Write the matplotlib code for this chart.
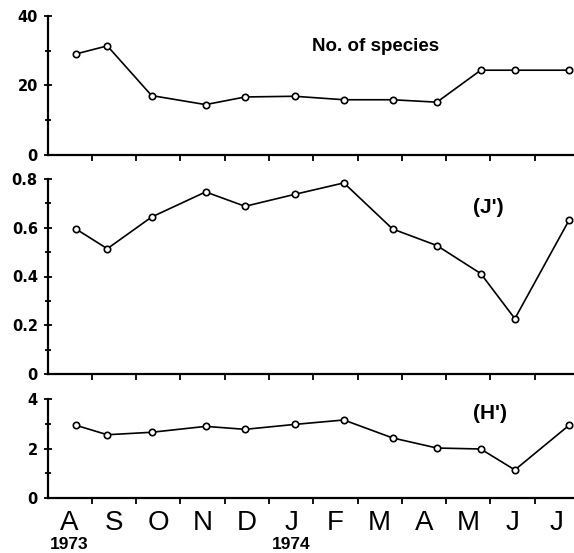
import numpy as np
import matplotlib.pyplot as plt
from matplotlib.ticker import MultipleLocator

# monthly samples, Aug 1973 - Jul 1974
months = ['A', 'S', 'O', 'N', 'D', 'J', 'F', 'M', 'A', 'M', 'J', 'J']
years = ['1973', '1974']
year_month = [0, 5]   # month index the year label sits under

# sampling dates as fraction of the month axis
sample_x = [0.65, 1.35, 2.35, 3.57, 4.46, 5.58, 6.69, 7.79, 8.79, 9.78, 10.55, 11.77]

species = [29.1, 31.4, 17.1, 14.5, 16.7, 16.9, 15.9, 15.9, 15.2, 24.4, 24.4, 24.4]
evenness = [0.594, 0.514, 0.644, 0.747, 0.688, 0.737, 0.784, 0.595, 0.527, 0.412, 0.227, 0.630]
diversity = [2.94, 2.56, 2.66, 2.90, 2.78, 2.98, 3.16, 2.43, 2.02, 1.98, 1.13, 2.94]

fig = plt.figure(figsize=(5.74, 5.53), dpi=100)

left = 47.5 / 574
width = 12 * 44.3 / 574

# (data, ylim, major, minor, label, label pos, label size, tick format, axes box)
panels = [
    (species, 40, 20, 10, 'No. of species', (0.497, 0.78), 13.5, '{:.0f}', (0.7197, 0.2514)),
    (evenness, 0.8, 0.2, 0.1, "(J')", (0.80, 0.855), 15, '{:.1f}', (0.3237, 0.3526)),
    (diversity, 4, 2, 1, "(H')", (0.80, 0.86), 15, '{:.0f}', (0.1000, 0.1779)),
]

for i, (vals, top, major, minor, label, lpos, lsize, fmt, (bot, h)) in enumerate(panels):
    ax = fig.add_axes([left, bot, width, h])
    ax.plot(sample_x, vals, color='black', lw=1.2, marker='o', ms=4.6,
            mfc='white', mec='black', mew=1.2, clip_on=False, zorder=3)
    ax.set_xlim(0, 12)
    ax.set_ylim(0, top)
    for s in ['top', 'right']:
        ax.spines[s].set_visible(False)
    for s in ['left', 'bottom']:
        ax.spines[s].set_linewidth(1.6)

    ax.yaxis.set_major_locator(MultipleLocator(major))
    ax.yaxis.set_minor_locator(MultipleLocator(minor))
    ticks = np.arange(0, top + major / 2, major)
    ax.set_yticks(ticks)
    ax.set_yticklabels(['0'] + [fmt.format(t) for t in ticks[1:]],
                       fontsize=10.5, fontweight='bold', family='DejaVu Sans')
    ax.tick_params(axis='y', which='both', direction='inout', width=1.3, pad=4)
    ax.tick_params(axis='y', which='major', length=6)
    ax.tick_params(axis='y', which='minor', length=5)

    ax.set_xticks(np.arange(1, 12))
    ax.set_xticklabels([])
    ax.tick_params(axis='x', which='major', direction='out', length=4, width=1.3)

    ax.text(lpos[0], lpos[1], label, transform=ax.transAxes, fontsize=lsize,
            fontweight='bold', family='Liberation Sans', ha='left', va='center')

    if i == 2:
        ax.set_xticks(np.arange(12) + 0.5, minor=True)
        ax.set_xticklabels(months, minor=True, fontsize=20,
                           family='Liberation Sans')
        ax.tick_params(axis='x', which='minor', length=0, pad=9)
        for yr, m in zip(years, year_month):
            ax.text(m + 0.5, -0.525, yr, transform=ax.get_xaxis_transform(),
                    fontsize=12.5, fontweight='bold', family='Liberation Sans',
                    ha='center', va='baseline')

fig.savefig('out.png', dpi=100)
